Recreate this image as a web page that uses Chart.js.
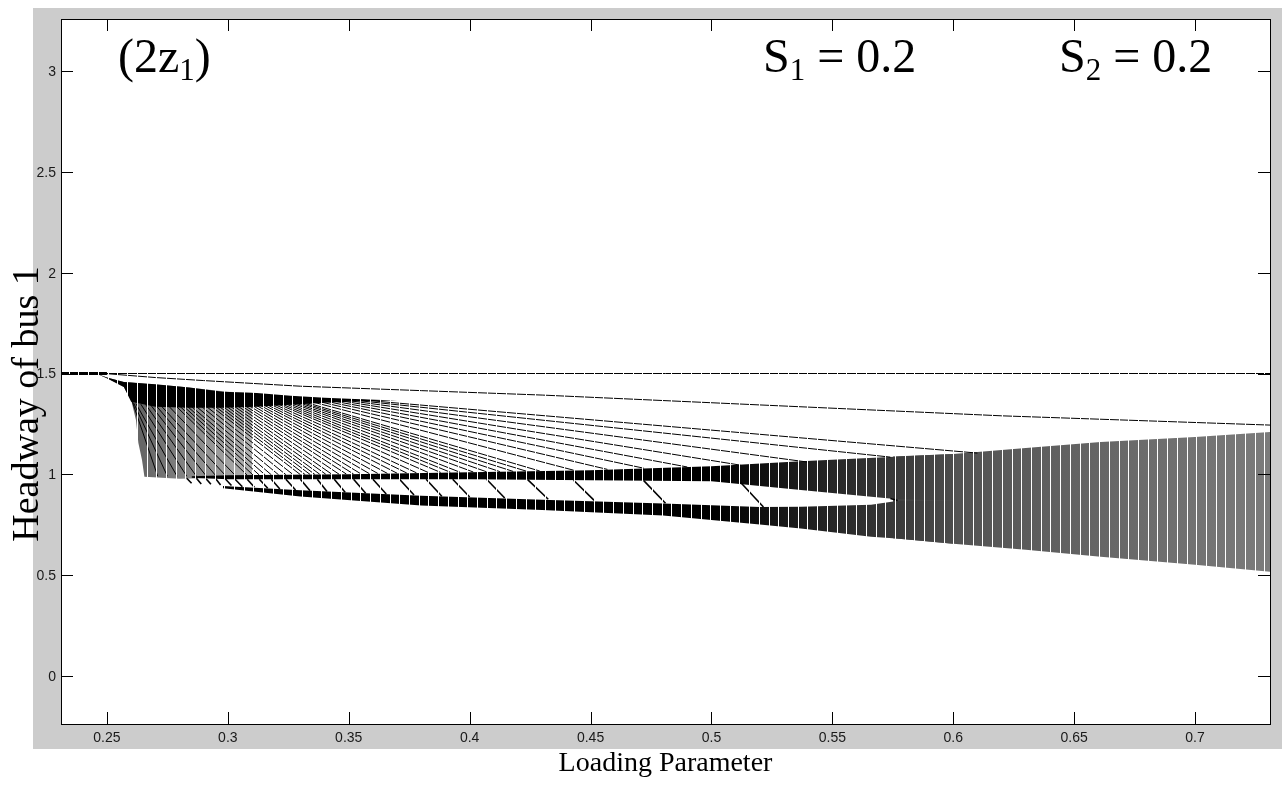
<!DOCTYPE html>
<html>
<head>
<meta charset="utf-8">
<script src="https://cdn.jsdelivr.net/npm/chart.js@4.4.0/dist/chart.umd.min.js"></script>
<style>
  html, body { margin: 0; padding: 0; background: #fff; }
  canvas { display: block; }
</style>
</head>
<body>
<canvas id="chart" width="1286" height="785"></canvas>
<script>
// axis ticks
const xTicks = [0.25, 0.3, 0.35, 0.4, 0.45, 0.5, 0.55, 0.6, 0.65, 0.7];
const xTickLabels = ['0.25', '0.3', '0.35', '0.4', '0.45', '0.5', '0.55', '0.6', '0.65', '0.7'];
const yTicks = [0, 0.5, 1, 1.5, 2, 2.5, 3];
const yTickLabels = ['0', '0.5', '1', '1.5', '2', '2.5', '3'];

// fixed point at 1.5 and its thick start before the first bifurcation
const fixedX = [0.231, 0.731];
const fixedY = [1.5, 1.5];
const stemX = [0.231, 0.25];
const stemY = [1.5, 1.5];

// upper periodic branch
const branchX = [0.249, 0.27, 0.29, 0.33, 0.38, 0.43, 0.52, 0.62, 0.731];
const branchY = [1.5, 1.48, 1.465, 1.437, 1.415, 1.393, 1.344, 1.29, 1.244];

// dense wedge after the first drop
const wedgeX = [0.246, 0.250, 0.257, 0.260, 0.262, 0.263, 0.2645, 0.2655, 0.28, 0.30, 0.31];
const wedgeTopY = [1.497, 1.48, 1.458, 1.455, 1.453, 1.452, 1.45, 1.449, 1.435, 1.41, 1.405];
const wedgeBaseY = [1.497, 1.477, 1.433, 1.368, 1.269, 1.155, 1.071, 0.987, 0.978, 0.982, 0.985];

// black strip along the top of the wedge
const stripX = [0.246, 0.250, 0.257, 0.260, 0.27, 0.284, 0.298, 0.312, 0.326, 0.34, 0.355, 0.37];
const stripTopY = [1.497, 1.48, 1.458, 1.455, 1.447, 1.43, 1.41, 1.403, 1.39, 1.38, 1.372, 1.366];
const stripBaseY = [1.497, 1.477, 1.433, 1.36, 1.335, 1.33, 1.33, 1.335, 1.345, 1.355, 1.362, 1.366];

// band near 1
const upperX = [0.285, 0.30, 0.35, 0.40, 0.45, 0.50, 0.537, 0.578, 0.60];
const upperTopY = [0.99, 0.995, 1.0, 1.01, 1.02, 1.04, 1.065, 1.088, 1.10];
const upperBaseY = [0.982, 0.975, 0.975, 0.975, 0.97, 0.965, 0.922, 0.875, 0.87];

// lower band
const lowerX = [0.298, 0.33, 0.38, 0.43, 0.48, 0.52, 0.537, 0.566, 0.578, 0.60];
const lowerTopY = [0.942, 0.92, 0.893, 0.873, 0.855, 0.837, 0.838, 0.848, 0.87, 0.87];
const lowerBaseY = [0.93, 0.89, 0.845, 0.822, 0.795, 0.75, 0.73, 0.69, 0.68, 0.655];

// chaotic region
const chaosX = [0.575, 0.60, 0.63, 0.661, 0.70, 0.731];
const chaosTopY = [1.088, 1.10, 1.13, 1.16, 1.185, 1.21];
const chaosBaseY = [0.682, 0.655, 0.625, 0.59, 0.55, 0.516];

// fan of periodic branches running from the strip down to the band
const fanStartX = [0.2605, 0.261, 0.262, 0.264, 0.266, 0.268, 0.270, 0.272, 0.275, 0.278,
  0.2795, 0.281, 0.2825, 0.284, 0.286, 0.288, 0.290, 0.292, 0.2935, 0.295,
  0.2965, 0.298, 0.2995, 0.301, 0.3025, 0.304, 0.3055, 0.307, 0.3085, 0.310,
  0.3115, 0.313, 0.3145, 0.316, 0.3175, 0.319, 0.3205, 0.322, 0.3235, 0.325,
  0.3265, 0.328, 0.3295, 0.331, 0.334, 0.337, 0.340, 0.343, 0.346, 0.349,
  0.352, 0.355];
const fanStartY = [1.36, 1.355, 1.35, 1.348, 1.346, 1.345, 1.345, 1.345, 1.345, 1.345,
  1.345, 1.345, 1.345, 1.346, 1.346, 1.347, 1.347, 1.348, 1.348, 1.349,
  1.349, 1.35, 1.35, 1.351, 1.351, 1.352, 1.352, 1.353, 1.353, 1.354,
  1.354, 1.355, 1.355, 1.356, 1.356, 1.357, 1.357, 1.358, 1.358, 1.359,
  1.359, 1.36, 1.36, 1.361, 1.362, 1.363, 1.364, 1.365, 1.366, 1.367,
  1.368, 1.369];
const fanHitX = [0.271, 0.275, 0.279, 0.283, 0.287, 0.291, 0.295, 0.299, 0.303, 0.308,
  0.3105, 0.313, 0.3155, 0.318, 0.321, 0.324, 0.327, 0.330, 0.332, 0.334,
  0.336, 0.338, 0.3405, 0.343, 0.346, 0.349, 0.352, 0.355, 0.3585, 0.362,
  0.366, 0.370, 0.374, 0.378, 0.383, 0.388, 0.392, 0.396, 0.4015, 0.407,
  0.4125, 0.418, 0.4235, 0.429, 0.443, 0.457, 0.472, 0.490, 0.512, 0.540,
  0.574, 0.610];
const fanHitY = [0.99, 0.99, 0.99, 0.99, 0.99, 0.992, 0.993, 0.994, 0.995, 0.995,
  0.995, 0.996, 0.996, 0.997, 0.997, 0.998, 0.998, 0.998, 0.998, 0.999,
  0.999, 1.0, 1.0, 1.0, 1.0, 1.001, 1.001, 1.002, 1.003, 1.004,
  1.004, 1.005, 1.006, 1.007, 1.008, 1.009, 1.01, 1.01, 1.011, 1.012,
  1.013, 1.014, 1.015, 1.016, 1.02, 1.024, 1.03, 1.036, 1.045, 1.06,
  1.085, 1.105];

// slanted edges crossing the gap between the two bands
const diagTopX = [0.283, 0.287, 0.291, 0.295, 0.299, 0.303, 0.308, 0.313, 0.318, 0.324, 0.330, 0.337,
  0.344, 0.352, 0.360, 0.371, 0.382, 0.393, 0.407, 0.424, 0.443, 0.472, 0.512, 0.574];
const diagTopY = [0.98, 0.98, 0.978, 0.977, 0.976, 0.975, 0.975, 0.975, 0.975, 0.975, 0.975, 0.975,
  0.975, 0.975, 0.975, 0.975, 0.975, 0.975, 0.975, 0.973, 0.97, 0.968, 0.96, 0.88];
const diagBaseX = [0.285, 0.289, 0.293, 0.297, 0.3015, 0.306, 0.311, 0.3165, 0.3215, 0.328, 0.334, 0.341,
  0.3485, 0.357, 0.3655, 0.377, 0.3885, 0.400, 0.4145, 0.4325, 0.4515, 0.481, 0.5215, 0.577];
const diagBaseY = [0.955, 0.952, 0.95, 0.947, 0.944, 0.938, 0.935, 0.93, 0.927, 0.922, 0.918, 0.914,
  0.91, 0.906, 0.902, 0.897, 0.891, 0.887, 0.882, 0.876, 0.87, 0.856, 0.837, 0.87];

// sampling gaps of the parameter sweep
const stripeStart = 0.2342;
const stripeStep = 0.00402;

function pts(xs, ys) {
  return xs.map((x, i) => ({ x: x, y: ys[i] }));
}

function hGradient(context, stops, fallback) {
  const chart = context.chart;
  const xs = chart.scales.x;
  if (!chart.chartArea || !xs || xs.right === undefined) return fallback;
  const g = chart.ctx.createLinearGradient(xs.left, 0, xs.right, 0);
  stops.forEach(s => {
    const t = (xs.getPixelForValue(s[0]) - xs.left) / (xs.right - xs.left);
    g.addColorStop(Math.min(1, Math.max(0, t)), s[1]);
  });
  return g;
}

const datasets = [];
function addLine(data, opts) {
  datasets.push(Object.assign({
    data: data, borderColor: '#000', borderWidth: 1, pointRadius: 0,
    fill: false, tension: 0, order: 1
  }, opts));
  return datasets.length - 1;
}
function addArea(xs, topY, baseY, color, order) {
  const base = addLine(pts(xs, baseY), { borderWidth: 0, borderColor: 'rgba(0,0,0,0)', order: order });
  addLine(pts(xs, topY), { borderWidth: 0, borderColor: 'rgba(0,0,0,0)', order: order, fill: base, backgroundColor: color });
}

addArea(chaosX, chaosTopY, chaosBaseY,
  ctx => hGradient(ctx, [[0.58, '#4c4c4c'], [0.731, '#7c7c7c']], '#5a5a5a'), 10);
addArea(wedgeX, wedgeTopY, wedgeBaseY,
  ctx => hGradient(ctx, [[0.265, 'rgba(0,0,0,0.6)'], [0.31, 'rgba(0,0,0,0.3)']], 'rgba(0,0,0,0.5)'), 9);
addArea(upperX, upperTopY, upperBaseY,
  ctx => hGradient(ctx, [[0.50, '#000'], [0.60, '#4c4c4c']], '#000'), 8);
addArea(lowerX, lowerTopY, lowerBaseY,
  ctx => hGradient(ctx, [[0.50, '#000'], [0.60, '#4c4c4c']], '#000'), 8);
addArea(stripX, stripTopY, stripBaseY, '#000', 7);

fanHitX.forEach((x, i) => {
  addLine([{ x: fanStartX[i], y: fanStartY[i] }, { x: x, y: fanHitY[i] }], { order: 4 });
});
diagTopX.forEach((x, i) => {
  addLine([{ x: x, y: diagTopY[i] }, { x: diagBaseX[i], y: diagBaseY[i] }], { order: 3, borderWidth: 1.6 });
});

addLine(pts(branchX, branchY), { order: 2 });
addLine(pts(fixedX, fixedY), { order: 1 });
addLine(pts(stemX, stemY), { order: 1, borderWidth: 3 });

function drawSubscripted(ctx, x, y, head, sub, tail) {
  ctx.font = '48px "Liberation Serif", "Times New Roman", serif';
  ctx.fillText(head, x, y);
  x += ctx.measureText(head).width;
  ctx.font = '31px "Liberation Serif", "Times New Roman", serif';
  ctx.fillText(sub, x, y + 8);
  x += ctx.measureText(sub).width;
  ctx.font = '48px "Liberation Serif", "Times New Roman", serif';
  ctx.fillText(tail, x, y);
}

const figurePlugin = {
  id: 'figure',
  beforeDraw(chart) {
    const ctx = chart.ctx;
    const a = chart.chartArea;
    ctx.save();
    ctx.fillStyle = '#fff';
    ctx.fillRect(0, 0, chart.width, chart.height);
    ctx.fillStyle = '#cccccc';
    ctx.fillRect(33, 8, 1249, 741);
    ctx.fillStyle = '#fff';
    ctx.fillRect(a.left, a.top, a.right - a.left, a.bottom - a.top);
    ctx.restore();
  },
  afterDatasetsDraw(chart) {
    const ctx = chart.ctx;
    const xs = chart.scales.x;
    const ys = chart.scales.y;
    const top = ys.getPixelForValue(1.53);
    const bottom = ys.getPixelForValue(0.45);
    ctx.save();
    ctx.fillStyle = '#fff';
    for (let v = stripeStart; v < xs.max; v += stripeStep) {
      const px = Math.round(xs.getPixelForValue(v));
      ctx.fillRect(px, top, 1, bottom - top);
    }
    ctx.restore();
  },
  afterDraw(chart) {
    const ctx = chart.ctx;
    const a = chart.chartArea;
    const xs = chart.scales.x;
    const ys = chart.scales.y;
    const tick = 12;
    ctx.save();
    ctx.strokeStyle = '#000';
    ctx.lineWidth = 1;
    ctx.strokeRect(a.left + 0.5, a.top + 0.5, a.right - a.left, a.bottom - a.top);
    ctx.beginPath();
    xTicks.forEach(v => {
      const px = Math.round(xs.getPixelForValue(v)) + 0.5;
      ctx.moveTo(px, a.bottom); ctx.lineTo(px, a.bottom - tick);
      ctx.moveTo(px, a.top); ctx.lineTo(px, a.top + tick);
    });
    yTicks.forEach(v => {
      const py = Math.round(ys.getPixelForValue(v)) + 0.5;
      ctx.moveTo(a.left, py); ctx.lineTo(a.left + tick, py);
      ctx.moveTo(a.right, py); ctx.lineTo(a.right - tick, py);
    });
    ctx.stroke();

    // tick labels
    ctx.fillStyle = '#1a1a1a';
    ctx.font = '14px "Liberation Sans", Arial, sans-serif';
    ctx.textAlign = 'center';
    ctx.textBaseline = 'alphabetic';
    xTicks.forEach((v, i) => {
      ctx.fillText(xTickLabels[i], xs.getPixelForValue(v), a.bottom + 18);
    });
    ctx.textAlign = 'right';
    ctx.textBaseline = 'middle';
    yTicks.forEach((v, i) => {
      ctx.fillText(yTickLabels[i], a.left - 5, ys.getPixelForValue(v) + 1);
    });

    // axis titles
    ctx.fillStyle = '#000';
    ctx.textAlign = 'center';
    ctx.textBaseline = 'alphabetic';
    ctx.font = '28px "Liberation Serif", "Times New Roman", serif';
    ctx.fillText('Loading Parameter', (a.left + a.right) / 2, 771);
    ctx.save();
    ctx.translate(38, 404);
    ctx.rotate(-Math.PI / 2);
    ctx.font = '38px "Liberation Serif", "Times New Roman", serif';
    ctx.fillText('Headway of bus 1', 0, 0);
    ctx.restore();

    // panel tag and parameter values
    ctx.textAlign = 'left';
    drawSubscripted(ctx, 118, 72, '(2z', '1', ')');
    drawSubscripted(ctx, 763, 72, 'S', '1', ' = 0.2');
    drawSubscripted(ctx, 1059, 72, 'S', '2', ' = 0.2');
    ctx.restore();
  }
};

new Chart(document.getElementById('chart'), {
  type: 'line',
  data: { datasets: datasets },
  options: {
    responsive: false,
    animation: false,
    events: [],
    layout: { padding: { top: 19, right: 16, left: 0, bottom: 0 } },
    plugins: { legend: { display: false }, tooltip: { enabled: false } },
    scales: {
      x: {
        type: 'linear', min: 0.231, max: 0.731,
        grid: { display: false }, border: { display: false }, ticks: { display: false },
        afterBuildTicks: axis => { axis.ticks = xTicks.map(v => ({ value: v })); },
        afterFit: axis => { axis.height = 61; }
      },
      y: {
        type: 'linear', min: -0.24, max: 3.26,
        grid: { display: false }, border: { display: false }, ticks: { display: false },
        afterBuildTicks: axis => { axis.ticks = yTicks.map(v => ({ value: v })); },
        afterFit: axis => { axis.width = 61; }
      }
    }
  },
  plugins: [figurePlugin]
});
</script>
</body>
</html>
